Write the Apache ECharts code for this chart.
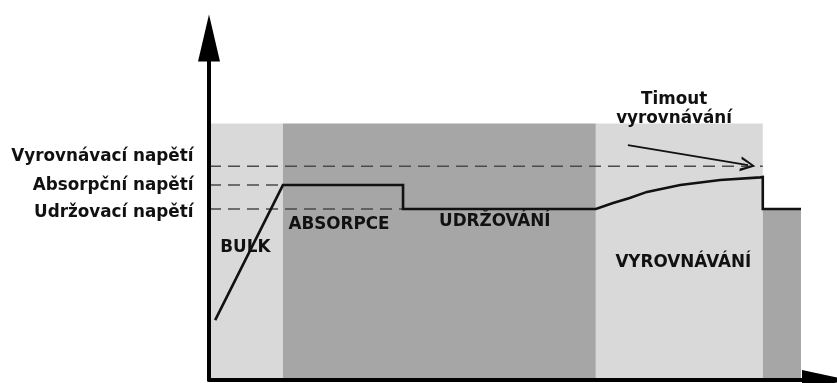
<!DOCTYPE html>
<html>
<head>
<meta charset="utf-8">
<script src="https://cdn.jsdelivr.net/npm/echarts@6/dist/echarts.min.js"></script>
<style>
html, body { margin: 0; padding: 0; background: #fff; }
#chart { width: 837px; height: 383px; }
</style>
</head>
<body>
<div id="chart"></div>
<script>
// faze nabijeni (osa x 0..100, osa y 0..20)
var zoneStart = [0, 12, 62.8, 89.9];
var zoneEnd = [12, 62.8, 89.9, 96.1];
var zoneTop = [15, 15, 15, 10];
var zoneKind = ["light", "dark", "light", "dark"];

// prubeh napeti
var chargeX = [1, 12, 31.5, 31.5, 62.8, 65.6, 68.3, 71.1, 76.5, 83, 89.5, 89.9, 89.9, 96.1];
var chargeY = [3.5, 11.4, 11.4, 10, 10, 10.35, 10.64, 11, 11.4, 11.7, 11.85, 11.87, 10, 10];

// urovne napeti (prerusovane cary)
var levelNames = ["Vyrovnávací napětí", "Absorpční napětí", "Udržovací napětí"];
var levelValues = [12.5, 11.4, 10];
var levelEnd = [89.9, 12, 31.5];

// popisky fazi
var phaseNames = ["BULK", "ABSORPCE", "UDRŽOVÁNÍ", "VYROVNÁVÁNÍ", "Timout\nvyrovnávání"];
var phaseX = [5.9, 21.1, 46.4, 77, 75.5];
var phaseY = [7.74, 9.06, 9.26, 6.87, 15.85];

// sipka timeoutu
var timeoutFrom = [68, 13.74];
var timeoutTo = [87.5, 12.57];

var shade = { light: "#d9d9d9", dark: "#a6a6a6" };
var font = "DejaVu Sans";

var chart = echarts.init(document.getElementById("chart"), null, { renderer: "canvas" });

var zoneData = zoneStart.map(function (s, i) {
  return [s, zoneEnd[i], zoneTop[i]];
});
var chargeData = chargeX.map(function (x, i) {
  return [x, chargeY[i]];
});
var levelSeries = levelValues.map(function (v, i) {
  return {
    name: levelNames[i],
    type: "line",
    z: 3,
    silent: true,
    showSymbol: false,
    data: [[0, v], [levelEnd[i], v]],
    lineStyle: { color: "#4a4a4a", width: 1.5, type: [12, 7] },
  };
});

chart.setOption({
  animation: false,
  grid: { left: 209, right: 12, top: 38, bottom: 3 },
  xAxis: {
    type: "value",
    min: 0,
    max: 100,
    z: 10,
    axisLine: {
      lineStyle: { color: "#000", width: 4 },
      symbol: ["none", "triangle"],
      symbolSize: [20, 46],
    },
    axisTick: { show: false },
    axisLabel: { show: false },
    splitLine: { show: false },
  },
  yAxis: {
    type: "value",
    min: 0,
    max: 20,
    z: 10,
    axisLine: {
      show: true,
      lineStyle: { color: "#000", width: 4 },
      symbol: ["none", "triangle"],
      symbolSize: [22, 47],
    },
    axisTick: { show: false },
    axisLabel: { show: false },
    splitLine: { show: false },
  },
  graphic: levelNames.map(function (n, i) {
    return {
      type: "text",
      x: 193.5,
      y: [156.5, 185.5, 213][i],
      style: {
        text: n,
        align: "right",
        verticalAlign: "middle",
        fill: "#111",
        font: "bold 16.8px '" + font + "'",
      },
    };
  }),
  series: [
    {
      type: "custom",
      z: 1,
      silent: true,
      data: zoneData,
      renderItem: function (params, api) {
        var p0 = api.coord([api.value(0), api.value(2)]);
        var p1 = api.coord([api.value(1), 0]);
        return {
          type: "rect",
          shape: { x: p0[0], y: p0[1], width: p1[0] - p0[0], height: p1[1] - p0[1] },
          style: { fill: shade[zoneKind[params.dataIndex]] },
        };
      },
    },
  ]
    .concat(levelSeries)
    .concat([
      {
        type: "line",
        z: 4,
        silent: true,
        showSymbol: false,
        data: chargeData,
        lineStyle: { color: "#111", width: 2.6, join: "miter" },
      },
      {
        type: "lines",
        coordinateSystem: "cartesian2d",
        z: 4,
        silent: true,
        symbol: ["none", "path://M5,0 L10,14 L8.2,14 L5,3.8 L1.8,14 L0,14 Z"],
        symbolSize: [11, 15],
        lineStyle: { color: "#111", width: 1.8, opacity: 1 },
        data: [{ coords: [timeoutFrom, timeoutTo] }],
      },
      {
        type: "scatter",
        z: 5,
        silent: true,
        symbolSize: 0,
        itemStyle: { color: "#111", opacity: 1 },
        data: phaseX.map(function (x, i) {
          return [x, phaseY[i]];
        }),
        label: {
          show: true,
          position: "inside",
          formatter: function (p) {
            return phaseNames[p.dataIndex];
          },
          color: "#111",
          opacity: 1,
          textBorderWidth: 0,
          fontFamily: font,
          fontWeight: "bold",
          fontSize: 16.8,
          lineHeight: 19,
          align: "center",
        },
      },
    ]),
});
</script>
</body>
</html>
